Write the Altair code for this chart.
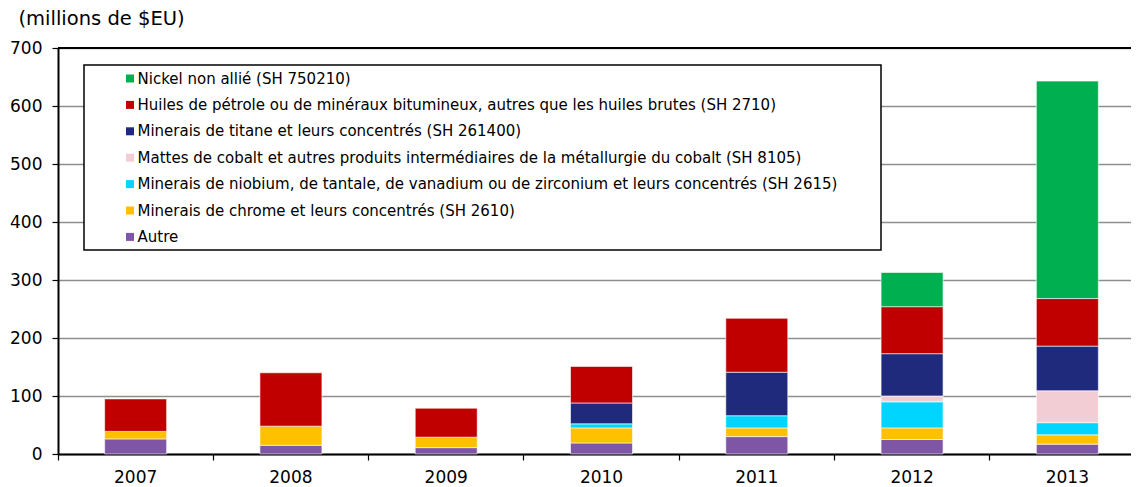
import altair as alt
import pandas as pd

years = ["2007", "2008", "2009", "2010", "2011", "2012", "2013"]

# series, bottom of stack first
series_names = [
    "Autre",
    "Minerais de chrome et leurs concentrés (SH 2610)",
    "Minerais de niobium, de tantale, de vanadium ou de zirconium et leurs concentrés (SH 2615)",
    "Mattes de cobalt et autres produits intermédiaires de la métallurgie du cobalt (SH 8105)",
    "Minerais de titane et leurs concentrés (SH 261400)",
    "Huiles de pétrole ou de minéraux bitumineux, autres que les huiles brutes (SH 2710)",
    "Nickel non allié (SH 750210)",
]
series_colors = ["#7F56A5", "#FFC000", "#00D5FF", "#F2CED4", "#202A7C", "#C00000", "#00B050"]

autre = [26, 15, 11, 19, 30, 25, 17]
chrome = [13, 33, 18, 26, 15, 20, 16]
niobium = [0, 0, 0, 7, 21, 45, 21]
cobalt = [0, 0, 0, 0, 0, 10, 55]
titane = [0, 0, 0, 36, 75, 73, 77]
huiles = [56, 92, 50, 63, 93, 81, 82]
nickel = [0, 0, 0, 0, 0, 59, 375]

y_ticks = [0, 100, 200, 300, 400, 500, 600, 700]

series_values = [autre, chrome, niobium, cobalt, titane, huiles, nickel]
rows = []
for i, yr in enumerate(years):
    for k, (name, vals) in enumerate(zip(series_names, series_values)):
        if vals[i] > 0:
            rows.append({"year": yr, "serie": name, "value": vals[i], "rank": k})
df = pd.DataFrame(rows)

legend_domain = list(reversed(series_names))
legend_range = list(reversed(series_colors))

FONT = "DejaVu Sans"
W, H = 1073, 406

bars = alt.Chart(df).mark_bar(size=62, stroke="#ffffff", strokeWidth=0.6).encode(
    x=alt.X(
        "year:N",
        sort=years,
        scale=alt.Scale(range=[0, 1087], paddingInner=0, paddingOuter=0),
        axis=alt.Axis(
            title=None, labelAngle=0, bandPosition=0,
            domainColor="black", domainWidth=2, tickColor="black", tickSize=6,
            tickWidth=1.2, labelPadding=9, labelFontSize=17, labelFont=FONT,
            labelColor="black", grid=False, labelBaseline="top",
        ),
    ),
    y=alt.Y(
        "value:Q",
        stack="zero",
        scale=alt.Scale(domain=[0, 700], nice=False),
        axis=alt.Axis(
            values=y_ticks, title="(millions de $EU)", titleAngle=0,
            titleX=-40, titleY=-24, titleAlign="left", titleBaseline="alphabetic",
            titleFont=FONT, titleFontSize=19.5, titleFontWeight="normal", titleColor="black",
            domainColor="black", domainWidth=2, tickColor="black", tickSize=6,
            tickWidth=1.2, labelPadding=10, labelFontSize=17, labelFont=FONT,
            labelColor="black", grid=True, gridColor="#8e8e8e", gridWidth=1.5,
        ),
    ),
    color=alt.Color(
        "serie:N",
        scale=alt.Scale(domain=legend_domain, range=legend_range),
        legend=alt.Legend(
            title=None, orient="none", legendX=64.5, legendY=23,
            symbolType="square", symbolSize=64, symbolStrokeWidth=0,
            labelFontSize=15, labelFont=FONT, labelColor="black", labelLimit=1200,
            rowPadding=10.4, labelOffset=0, padding=0,
        ),
    ),
    order=alt.Order("rank:Q", sort="ascending"),
)

one = pd.DataFrame({"a": [0]})

box = alt.Chart(one).mark_rect(fill="white", stroke="black", strokeWidth=1.5).encode(
    x=alt.value(26), x2=alt.value(823), y=alt.value(17), y2=alt.value(202)
)

topline = alt.Chart(one).mark_rule(color="black", strokeWidth=2).encode(
    y=alt.datum(700)
)

chart = alt.layer(bars, topline, box).properties(
    width=W, height=H,
    autosize=alt.AutoSizeParams(type="none"),
    padding={"left": 50, "top": 40, "right": 0, "bottom": 33},
).configure_view(stroke=None).configure(background="white")

chart.save("out.html", embed_options={"renderer": "svg", "actions": False})
